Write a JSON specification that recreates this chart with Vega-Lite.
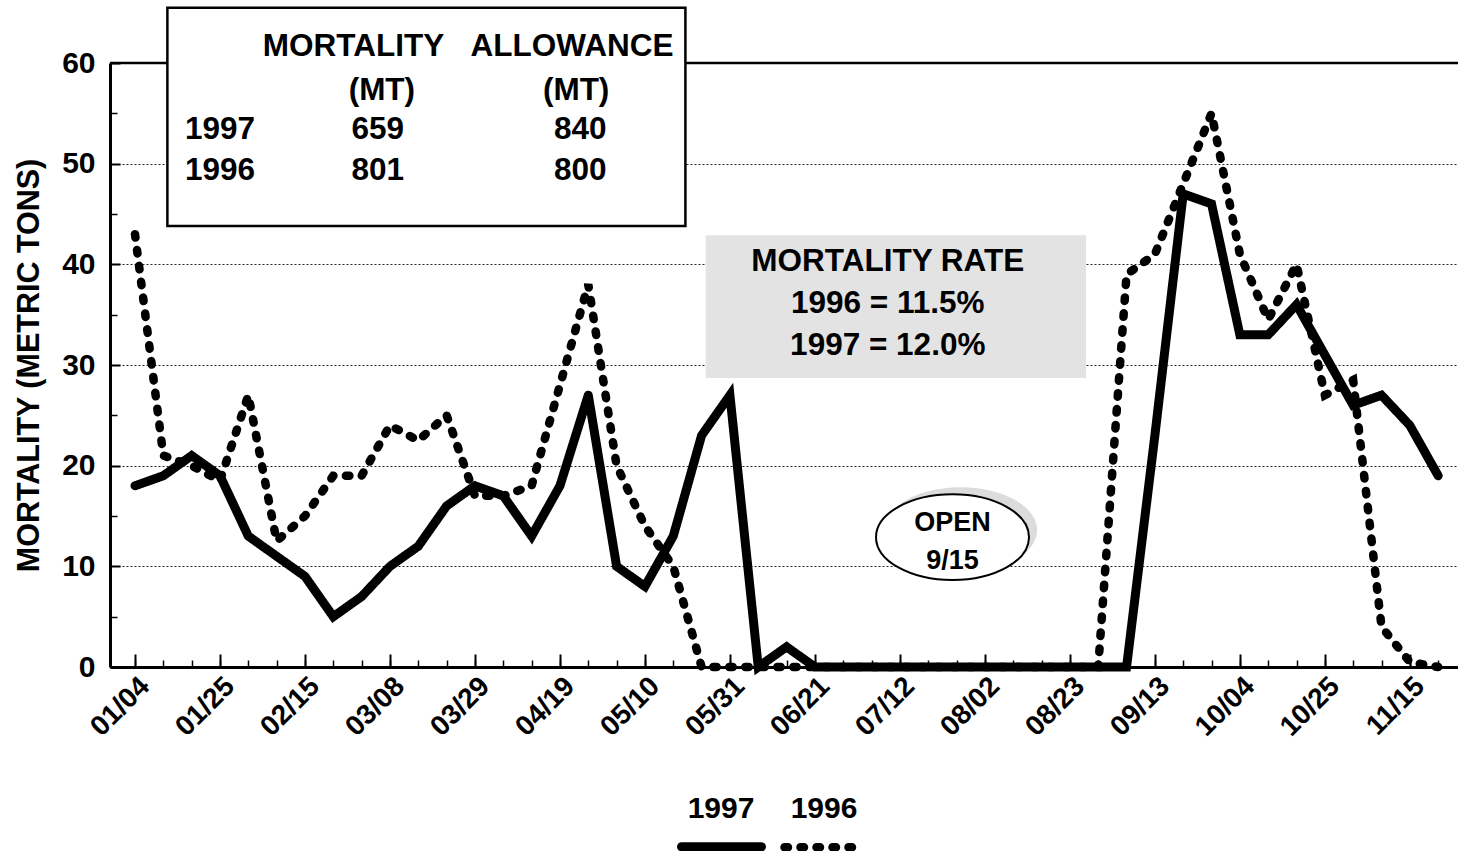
{
  "$schema": "https://vega.github.io/schema/vega-lite/v6.json",
  "width": 1348,
  "height": 604,
  "autosize": {"type": "none"},
  "padding": {"left": 110, "top": 63, "right": 0, "bottom": 184},
  "background": "white",
  "config": {"view": {"stroke": null}, "font": "Liberation Sans"},
  "datasets": {
    "series": [
      {"date": "1997-01-04", "year": "1997", "mortality": 18},
      {"date": "1997-01-11", "year": "1997", "mortality": 19},
      {"date": "1997-01-18", "year": "1997", "mortality": 21},
      {"date": "1997-01-25", "year": "1997", "mortality": 19},
      {"date": "1997-02-01", "year": "1997", "mortality": 13},
      {"date": "1997-02-08", "year": "1997", "mortality": 11},
      {"date": "1997-02-15", "year": "1997", "mortality": 9},
      {"date": "1997-02-22", "year": "1997", "mortality": 5},
      {"date": "1997-03-01", "year": "1997", "mortality": 7},
      {"date": "1997-03-08", "year": "1997", "mortality": 10},
      {"date": "1997-03-15", "year": "1997", "mortality": 12},
      {"date": "1997-03-22", "year": "1997", "mortality": 16},
      {"date": "1997-03-29", "year": "1997", "mortality": 18},
      {"date": "1997-04-05", "year": "1997", "mortality": 17},
      {"date": "1997-04-12", "year": "1997", "mortality": 13},
      {"date": "1997-04-19", "year": "1997", "mortality": 18},
      {"date": "1997-04-26", "year": "1997", "mortality": 27},
      {"date": "1997-05-03", "year": "1997", "mortality": 10},
      {"date": "1997-05-10", "year": "1997", "mortality": 8},
      {"date": "1997-05-17", "year": "1997", "mortality": 13},
      {"date": "1997-05-24", "year": "1997", "mortality": 23},
      {"date": "1997-05-31", "year": "1997", "mortality": 27},
      {"date": "1997-06-07", "year": "1997", "mortality": 0},
      {"date": "1997-06-14", "year": "1997", "mortality": 2},
      {"date": "1997-06-21", "year": "1997", "mortality": 0},
      {"date": "1997-06-28", "year": "1997", "mortality": 0},
      {"date": "1997-07-05", "year": "1997", "mortality": 0},
      {"date": "1997-07-12", "year": "1997", "mortality": 0},
      {"date": "1997-07-19", "year": "1997", "mortality": 0},
      {"date": "1997-07-26", "year": "1997", "mortality": 0},
      {"date": "1997-08-02", "year": "1997", "mortality": 0},
      {"date": "1997-08-09", "year": "1997", "mortality": 0},
      {"date": "1997-08-16", "year": "1997", "mortality": 0},
      {"date": "1997-08-23", "year": "1997", "mortality": 0},
      {"date": "1997-08-30", "year": "1997", "mortality": 0},
      {"date": "1997-09-06", "year": "1997", "mortality": 0},
      {"date": "1997-09-13", "year": "1997", "mortality": 23},
      {"date": "1997-09-20", "year": "1997", "mortality": 47},
      {"date": "1997-09-27", "year": "1997", "mortality": 46},
      {"date": "1997-10-04", "year": "1997", "mortality": 33},
      {"date": "1997-10-11", "year": "1997", "mortality": 33},
      {"date": "1997-10-18", "year": "1997", "mortality": 36},
      {"date": "1997-10-25", "year": "1997", "mortality": 31},
      {"date": "1997-11-01", "year": "1997", "mortality": 26},
      {"date": "1997-11-08", "year": "1997", "mortality": 27},
      {"date": "1997-11-15", "year": "1997", "mortality": 24},
      {"date": "1997-11-22", "year": "1997", "mortality": 19},
      {"date": "1997-01-04", "year": "1996", "mortality": 43},
      {"date": "1997-01-11", "year": "1996", "mortality": 21},
      {"date": "1997-01-18", "year": "1996", "mortality": 20},
      {"date": "1997-01-25", "year": "1996", "mortality": 18.5},
      {"date": "1997-02-01", "year": "1996", "mortality": 27},
      {"date": "1997-02-08", "year": "1996", "mortality": 12.5},
      {"date": "1997-02-15", "year": "1996", "mortality": 15},
      {"date": "1997-02-22", "year": "1996", "mortality": 19},
      {"date": "1997-03-01", "year": "1996", "mortality": 19},
      {"date": "1997-03-08", "year": "1996", "mortality": 24},
      {"date": "1997-03-15", "year": "1996", "mortality": 22.5},
      {"date": "1997-03-22", "year": "1996", "mortality": 25},
      {"date": "1997-03-29", "year": "1996", "mortality": 17},
      {"date": "1997-04-05", "year": "1996", "mortality": 17},
      {"date": "1997-04-12", "year": "1996", "mortality": 18},
      {"date": "1997-04-19", "year": "1996", "mortality": 28},
      {"date": "1997-04-26", "year": "1996", "mortality": 38},
      {"date": "1997-05-03", "year": "1996", "mortality": 20},
      {"date": "1997-05-10", "year": "1996", "mortality": 14},
      {"date": "1997-05-17", "year": "1996", "mortality": 10},
      {"date": "1997-05-24", "year": "1996", "mortality": 0},
      {"date": "1997-05-31", "year": "1996", "mortality": 0},
      {"date": "1997-06-07", "year": "1996", "mortality": 0},
      {"date": "1997-06-14", "year": "1996", "mortality": 0},
      {"date": "1997-06-21", "year": "1996", "mortality": 0},
      {"date": "1997-06-28", "year": "1996", "mortality": 0},
      {"date": "1997-07-05", "year": "1996", "mortality": 0},
      {"date": "1997-07-12", "year": "1996", "mortality": 0},
      {"date": "1997-07-19", "year": "1996", "mortality": 0},
      {"date": "1997-07-26", "year": "1996", "mortality": 0},
      {"date": "1997-08-02", "year": "1996", "mortality": 0},
      {"date": "1997-08-09", "year": "1996", "mortality": 0},
      {"date": "1997-08-16", "year": "1996", "mortality": 0},
      {"date": "1997-08-23", "year": "1996", "mortality": 0},
      {"date": "1997-08-30", "year": "1996", "mortality": 0},
      {"date": "1997-09-06", "year": "1996", "mortality": 39},
      {"date": "1997-09-13", "year": "1996", "mortality": 41},
      {"date": "1997-09-20", "year": "1996", "mortality": 48},
      {"date": "1997-09-27", "year": "1996", "mortality": 55},
      {"date": "1997-10-04", "year": "1996", "mortality": 41},
      {"date": "1997-10-11", "year": "1996", "mortality": 34.5},
      {"date": "1997-10-18", "year": "1996", "mortality": 40},
      {"date": "1997-10-25", "year": "1996", "mortality": 27},
      {"date": "1997-11-01", "year": "1996", "mortality": 28.5},
      {"date": "1997-11-08", "year": "1996", "mortality": 4},
      {"date": "1997-11-15", "year": "1996", "mortality": 0.5},
      {"date": "1997-11-22", "year": "1996", "mortality": 0}
    ],
    "topLine": [{"value": 60}],
    "tableBox": [{"start": "1997-01-12", "end": "1997-05-20", "top": 65.5, "bottom": 43.8}],
    "rateBox": [{"start": "1997-05-25", "end": "1997-08-27", "top": 42.9, "bottom": 28.7}],
    "openShadow": [{"date": "1997-07-27", "value": 13.6}],
    "openMark": [{"date": "1997-07-25", "value": 12.9}],
    "tableText": [
      {"date": "1997-02-27", "value": 61.6, "text": "MORTALITY"},
      {"date": "1997-04-22", "value": 61.6, "text": "ALLOWANCE"},
      {"date": "1997-03-06", "value": 57.2, "text": "(MT)"},
      {"date": "1997-04-23", "value": 57.2, "text": "(MT)"},
      {"date": "1997-01-25", "value": 53.3, "text": "1997"},
      {"date": "1997-03-05", "value": 53.3, "text": "659"},
      {"date": "1997-04-24", "value": 53.3, "text": "840"},
      {"date": "1997-01-25", "value": 49.3, "text": "1996"},
      {"date": "1997-03-05", "value": 49.3, "text": "801"},
      {"date": "1997-04-24", "value": 49.3, "text": "800"}
    ],
    "rateText": [
      {"date": "1997-07-09", "value": 40.2, "text": "MORTALITY RATE"},
      {"date": "1997-07-09", "value": 36.1, "text": "1996 = 11.5%"},
      {"date": "1997-07-09", "value": 31.9, "text": "1997 = 12.0%"}
    ],
    "openText": [
      {"date": "1997-07-25", "value": 14.3, "text": "OPEN"},
      {"date": "1997-07-25", "value": 10.5, "text": "9/15"}
    ]
  },
  "layer": [
    {
      "data": {"name": "series"},
      "mark": {"type": "line", "color": "black", "strokeCap": "round", "strokeJoin": "miter", "strokeMiterLimit": 4},
      "encoding": {
        "x": {
          "field": "date", "type": "temporal",
          "scale": {"type": "utc", "domain": [851802264000, 880580160000], "nice": false},
          "axis": {
            "orient": "bottom", "title": null,
            "values": [852336000000, 854150400000, 855964800000, 857779200000, 859593600000, 861408000000, 863222400000, 865036800000, 866851200000, 868665600000, 870480000000, 872294400000, 874108800000, 875923200000, 877737600000, 879552000000],
            "format": "%m/%d", "labelAngle": -45, "labelAlign": "right", "labelBaseline": "top",
            "labelFontSize": 28, "labelFontWeight": "bold", "labelColor": "black", "labelPadding": 18, "labelOverlap": false,
            "tickSize": -13, "tickWidth": 2, "tickColor": "black",
            "domainColor": "black", "domainWidth": 3, "grid": false
          }
        },
        "y": {
          "field": "mortality", "type": "quantitative",
          "scale": {"domain": [0, 60], "nice": false},
          "axis": {
            "orient": "left",
            "values": [0, 10, 20, 30, 40, 50, 60],
            "title": "MORTALITY  (METRIC TONS)", "titleFontSize": 30.5, "titleFontWeight": "bold", "titleColor": "black", "titlePadding": 17,
            "labelFontSize": 30, "labelFontWeight": "bold", "labelColor": "black", "labelPadding": 25,
            "tickSize": -10, "tickWidth": 2, "tickColor": "black",
            "domainColor": "black", "domainWidth": 3,
            "grid": true, "gridDash": [2, 2], "gridColor": "#222222", "gridWidth": 1
          }
        },
        "strokeDash": {
          "field": "year", "type": "nominal",
          "scale": {"domain": ["1997", "1996"], "range": [[1, 0], [3.5, 12.5]]},
          "legend": {
            "orient": "none", "legendX": 567, "legendY": 739, "direction": "horizontal", "title": null,
            "symbolType": "stroke", "symbolSize": 6400, "symbolStrokeWidth": 11, "symbolStrokeColor": "black",
            "labelFontSize": 30, "labelFontWeight": "bold", "labelColor": "black", "labelOffset": 0, "columnPadding": -25,
            "encode": {
              "labels": {"update": {"align": {"value": "center"}, "dx": {"value": -45}, "dy": {"value": -38}}},
              "symbols": {"update": {"strokeCap": {"value": "round"}, "strokeDash": {"signal": "datum.value === '1996' ? [1, 16.5] : [1, 0]"}}}
            }
          }
        },
        "strokeWidth": {
          "field": "year", "type": "nominal",
          "scale": {"domain": ["1997", "1996"], "range": [9, 8.5]},
          "legend": null
        }
      }
    },
    {
      "data": {"name": "topLine"},
      "mark": {"type": "rule", "color": "black", "strokeWidth": 2.5},
      "encoding": {"y": {"field": "value", "type": "quantitative", "axis": null}}
    },
    {
      "data": {"name": "tableBox"},
      "mark": {"type": "rect", "fill": "white", "stroke": "black", "strokeWidth": 2.5},
      "encoding": {
        "x": {
          "field": "start", "type": "temporal",
          "axis": {
            "orient": "bottom", "title": null, "labels": false, "domain": false, "grid": false,
            "values": [852336000000, 852940800000, 853545600000, 854150400000, 854755200000, 855360000000, 855964800000, 856569600000, 857174400000, 857779200000, 858384000000, 858988800000, 859593600000, 860198400000, 860803200000, 861408000000, 862012800000, 862617600000, 863222400000, 863827200000, 864432000000, 865036800000, 865641600000, 866246400000, 866851200000, 867456000000, 868060800000, 868665600000, 869270400000, 869875200000, 870480000000, 871084800000, 871689600000, 872294400000, 872899200000, 873504000000, 874108800000, 874713600000, 875318400000, 875923200000, 876528000000, 877132800000, 877737600000, 878342400000, 878947200000, 879552000000, 880156800000],
            "tickSize": -7, "tickWidth": 1.5, "tickColor": "black"
          }
        },
        "x2": {"field": "end"},
        "y": {
          "field": "top", "type": "quantitative",
          "axis": {
            "orient": "left", "title": null, "labels": false, "domain": false, "grid": false,
            "values": [5, 15, 25, 35, 45, 55],
            "tickSize": -7, "tickWidth": 1.5, "tickColor": "black"
          }
        },
        "y2": {"field": "bottom"}
      }
    },
    {
      "data": {"name": "rateBox"},
      "mark": {"type": "rect", "fill": "#e3e3e3"},
      "encoding": {
        "x": {"field": "start", "type": "temporal", "axis": null},
        "x2": {"field": "end"},
        "y": {"field": "top", "type": "quantitative", "axis": null},
        "y2": {"field": "bottom"}
      }
    },
    {
      "data": {"name": "openShadow"},
      "mark": {"type": "point", "shape": "M -1 0 A 1 0.56 0 1 0 1 0 A 1 0.56 0 1 0 -1 0 Z", "size": 23409, "filled": true, "fill": "#dcdcdc", "strokeWidth": 0, "opacity": 1},
      "encoding": {
        "x": {"field": "date", "type": "temporal", "axis": null},
        "y": {"field": "value", "type": "quantitative", "axis": null}
      }
    },
    {
      "data": {"name": "openMark"},
      "mark": {"type": "point", "shape": "M -1 0 A 1 0.56 0 1 0 1 0 A 1 0.56 0 1 0 -1 0 Z", "size": 23409, "filled": true, "fill": "white", "stroke": "black", "strokeWidth": 2, "opacity": 1},
      "encoding": {
        "x": {"field": "date", "type": "temporal", "axis": null},
        "y": {"field": "value", "type": "quantitative", "axis": null}
      }
    },
    {
      "data": {"name": "tableText"},
      "mark": {"type": "text", "fontSize": 31.5, "fontWeight": "bold", "color": "black", "align": "center", "baseline": "middle"},
      "encoding": {
        "x": {"field": "date", "type": "temporal", "axis": null},
        "y": {"field": "value", "type": "quantitative", "axis": null},
        "text": {"field": "text"}
      }
    },
    {
      "data": {"name": "rateText"},
      "mark": {"type": "text", "fontSize": 31.5, "fontWeight": "bold", "color": "black", "align": "center", "baseline": "middle"},
      "encoding": {
        "x": {"field": "date", "type": "temporal", "axis": null},
        "y": {"field": "value", "type": "quantitative", "axis": null},
        "text": {"field": "text"}
      }
    },
    {
      "data": {"name": "openText"},
      "mark": {"type": "text", "fontSize": 27, "fontWeight": "bold", "color": "black", "align": "center", "baseline": "middle"},
      "encoding": {
        "x": {"field": "date", "type": "temporal", "axis": null},
        "y": {"field": "value", "type": "quantitative", "axis": null},
        "text": {"field": "text"}
      }
    }
  ],
  "resolve": {"axis": {"x": "independent", "y": "independent"}}
}
